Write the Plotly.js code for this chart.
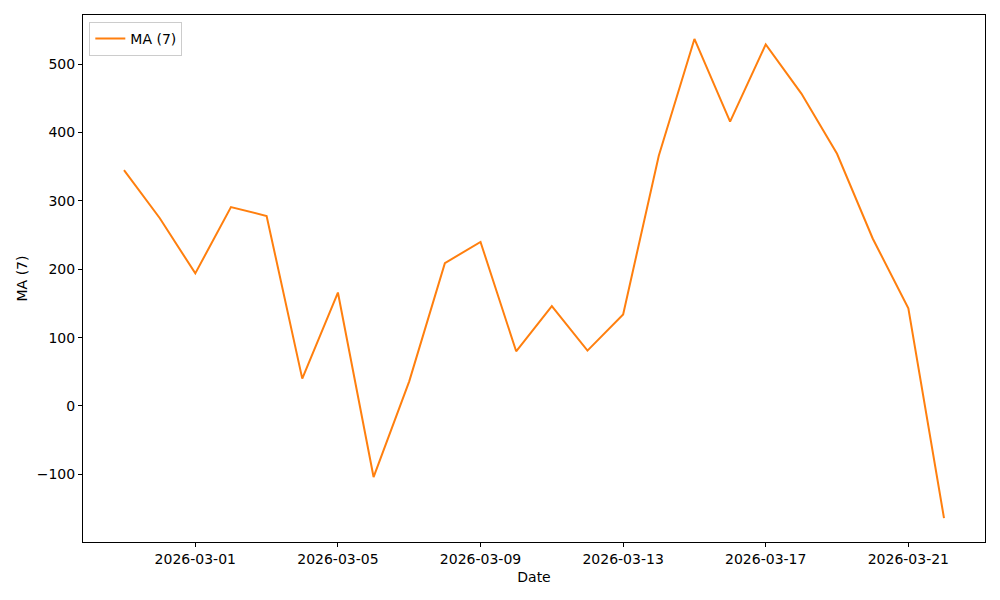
<!DOCTYPE html>
<html>
<head>
<meta charset="utf-8">
<script src="https://cdn.plot.ly/plotly-3.0.1.min.js"></script>
<style>html,body{margin:0;padding:0;background:#fff;}#chart{width:1000px;height:600px;}</style>
</head>
<body>
<div id="chart"></div>
<script>
const dates = ["2026-02-27","2026-02-28","2026-03-01","2026-03-02","2026-03-03","2026-03-04","2026-03-05","2026-03-06","2026-03-07","2026-03-08","2026-03-09","2026-03-10","2026-03-11","2026-03-12","2026-03-13","2026-03-14","2026-03-15","2026-03-16","2026-03-17","2026-03-18","2026-03-19","2026-03-20","2026-03-21","2026-03-22"];
const maValues = [345, 275, 194, 291, 278, 40, 166, -104, 36, 209, 240, 80, 146, 81, 134, 366, 537, 416, 529, 457, 369, 245, 143, -164];
const seriesName = "MA (7)";
const xTitle = "Date";
const yTitle = "MA (7)";

const fontFam = "DejaVu Sans, sans-serif";
const trace = {
  x: dates, y: maValues, type: "scatter", mode: "lines", name: seriesName,
  line: {color: "#ff7f0e", width: 2}
};
const layout = {
  width: 1000, height: 600,
  margin: {l: 83, r: 15, t: 15, b: 58},
  paper_bgcolor: "#fff", plot_bgcolor: "#fff",
  font: {family: fontFam, size: 14, color: "#000"},
  showlegend: true,
  legend: {x: 0.007, y: 0.987, xanchor: "left", yanchor: "top", bgcolor: "rgba(255,255,255,0.8)", bordercolor: "#cccccc", borderwidth: 1, font: {family: fontFam, size: 14, color: "#000"}},
  xaxis: {
    type: "date",
    range: ["2026-02-25 20:24", "2026-03-23 03:36"],
    tick0: "2026-03-01", dtick: 4*86400000, tickformat: "%Y-%m-%d",
    ticks: "outside", ticklen: 4, tickcolor: "#000", tickwidth: 1,
    showline: true, mirror: true, linecolor: "#000", linewidth: 1,
    showgrid: false, zeroline: false,
    title: {text: xTitle, font: {family: fontFam, size: 14}, standoff: 6}
  },
  yaxis: {
    range: [-199, 572],
    dtick: 100, tick0: 0,
    ticks: "outside", ticklen: 4, tickcolor: "#000", tickwidth: 1,
    showline: true, mirror: true, linecolor: "#000", linewidth: 1,
    showgrid: false, zeroline: false,
    title: {text: yTitle, font: {family: fontFam, size: 14}, standoff: 5}
  }
};
Plotly.newPlot("chart", [trace], layout, {displayModeBar: false, staticPlot: true});
</script>
</body>
</html>
